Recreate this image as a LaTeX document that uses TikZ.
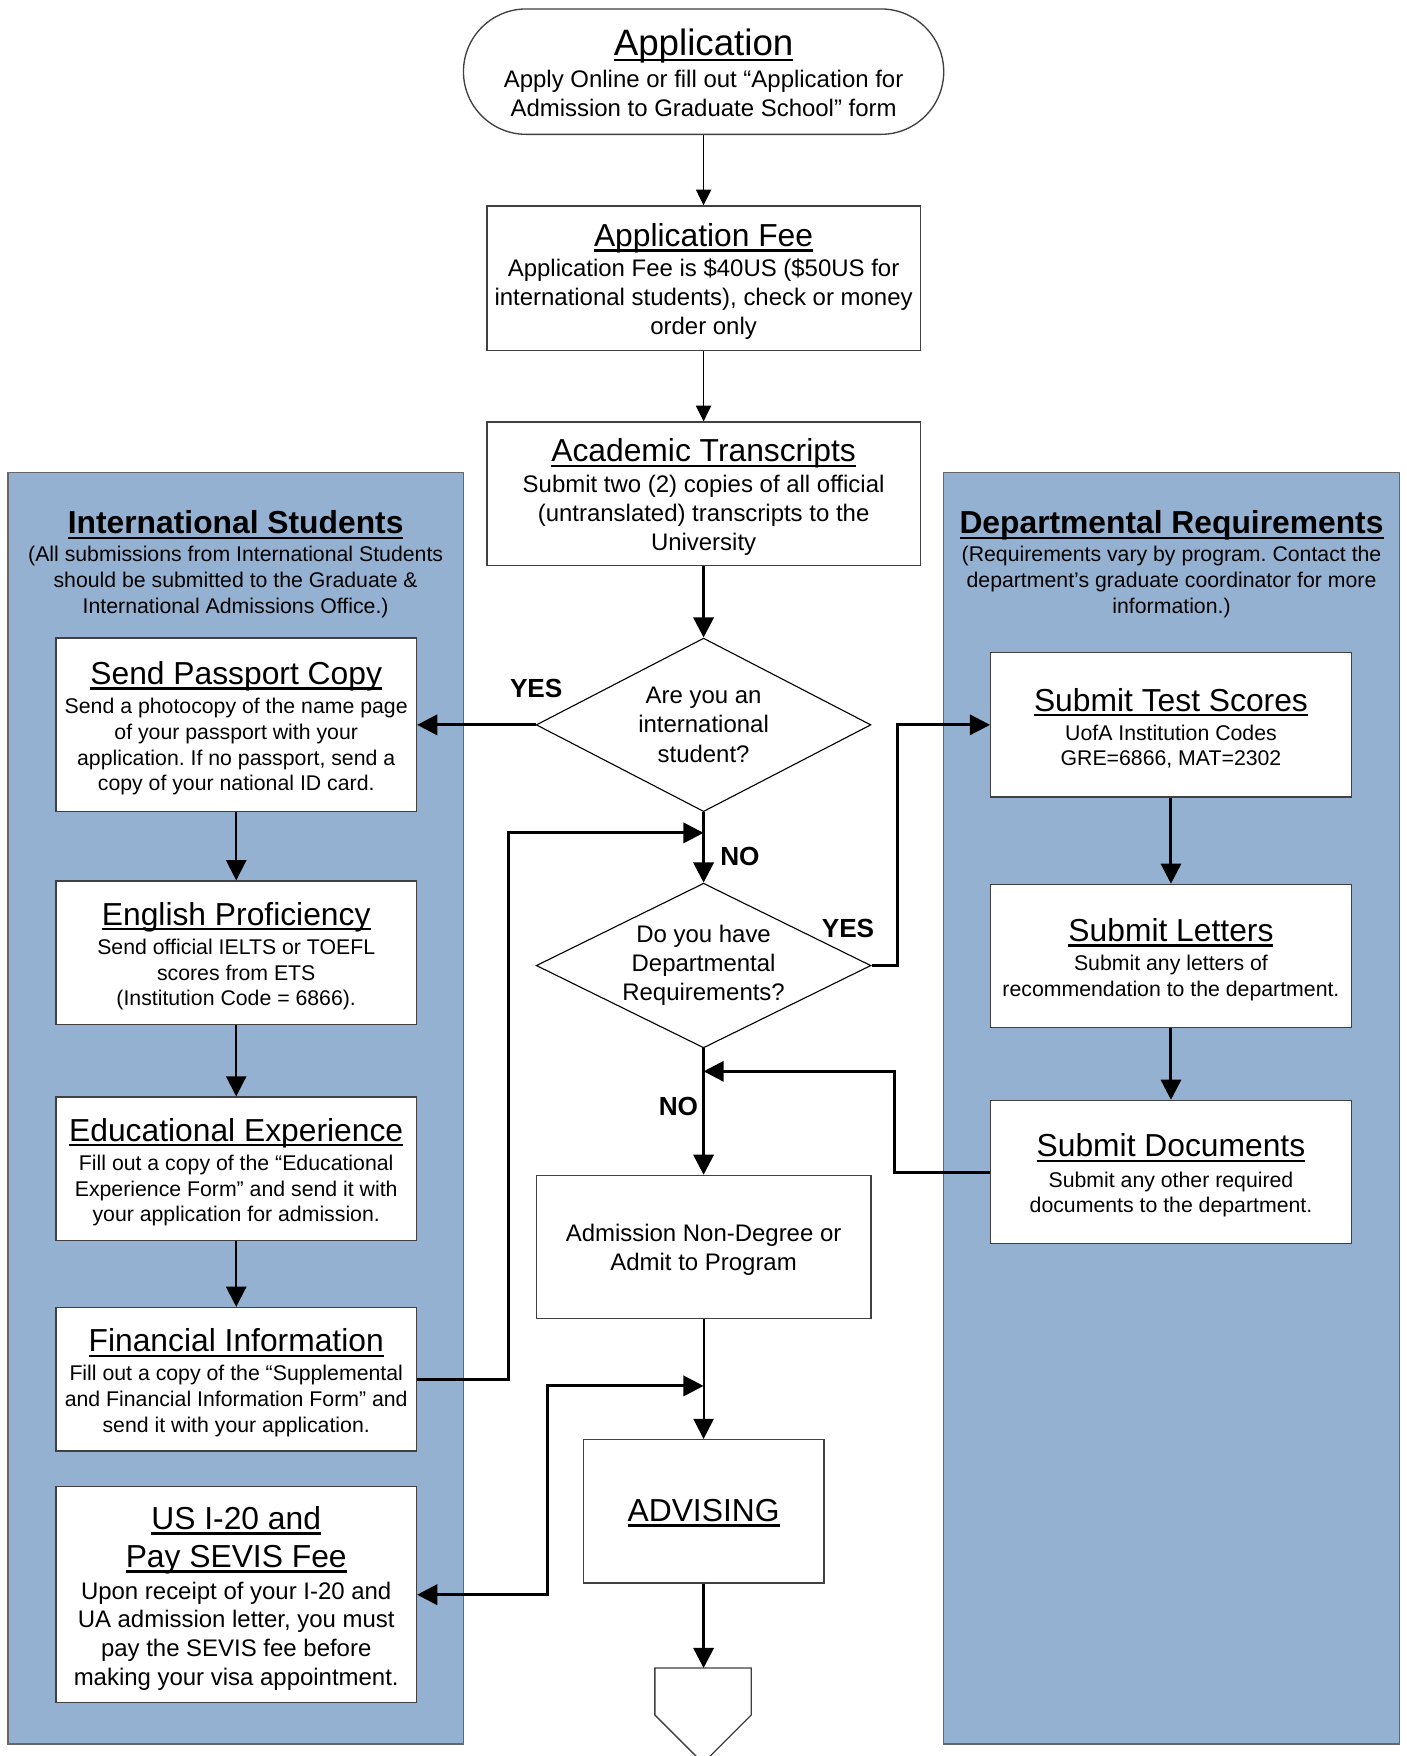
\documentclass[tikz,border=0pt]{standalone}
\usepackage{fontspec}
\setmainfont{Liberation Sans}
\usetikzlibrary{arrows.meta,shapes.geometric,shapes.misc}
\frenchspacing
\definecolor{panelblue}{RGB}{149,177,209}
\newcommand\myul[1]{\setbox0=\hbox{#1}\leavevmode\rlap{\vrule width\wd0 height -0.09em depth 0.165em}\box0}
\newcommand\mybody{\fontsize{10.7}{13}\selectfont}
\newcommand\mysmall{\fontsize{9.5}{11.5}\selectfont}
\newcommand\mytitle{\fontsize{14.2}{17}\selectfont}
\newcommand\mybig{\fontsize{16.4}{19}\selectfont}
\newcommand\myt[1]{{\mytitle\rule{0pt}{13.4pt}\myul{#1}}}
\begin{document}
\begin{tikzpicture}[x=0.5pt,y=-0.5pt,
  panel/.style={draw=black!60,fill=panelblue,line width=0.6pt,minimum width=203.5pt,minimum height=568pt,inner sep=0pt},
  box/.style={draw=black!75,fill=white,line width=0.6pt,align=center,inner sep=0pt},
  cbox/.style={box,font=\mybody,minimum width=193.5pt},
  sbox/.style={box,font=\mysmall,minimum width=161pt},
  diam/.style={diamond,draw=black,fill=white,line width=0.5pt,aspect=1.93,inner sep=0pt,align=center,font=\mybody,minimum width=149.5pt},
  thinarrow/.style={draw=black,line width=0.5pt,-{Triangle[length=7pt,width=6.8pt]}},
  medarrow/.style={draw=black,line width=0.9pt,-{Triangle[length=9pt,width=9pt]}},
  thickarrow/.style={draw=black,line width=1.35pt,-{Triangle[length=9pt,width=9pt]}},
  lbl/.style={font=\bfseries\fontsize{11.7}{14}\selectfont,inner sep=1pt},
  hdr/.style={align=center,font=\mysmall,inner sep=0pt}
]
\useasboundingbox (0,0) rectangle (1256,1568.6);
% panels
\node[panel] (lpanel) at (210.5,990) {};
\node[panel] (rpanel) at (1046.5,990) {};
\node[hdr] (lhdr) at (210.5,504) {{\bfseries\mytitle\myul{International Students}}\\[1pt]
(All submissions from International Students\\should be submitted to the Graduate \&\\International Admissions Office.)};
\node[hdr] (rhdr) at (1046.5,504) {{\bfseries\mytitle\myul{Departmental Requirements}}\\[1pt]
(Requirements vary by program. Contact the\\department’s graduate coordinator for more\\information.)};

% central column
\node[rounded rectangle,draw=black!75,fill=white,line width=0.6pt,align=center,inner sep=0pt,
  minimum width=214.5pt,minimum height=56pt,font=\mybody] (app) at (628.5,64)
  {{\mybig\rule{0pt}{13pt}\myul{Application}}\\[1.5pt]Apply Online or fill out “Application for\\Admission to Graduate School” form};
\node[cbox,minimum height=64.5pt] (fee) at (628.5,248.5)
  {\myt{Application Fee}\\[0.5pt]Application Fee is \$40US (\$50US for\\international students), check or money\\order only};
\node[cbox,minimum height=64pt] (trans) at (628.5,441)
  {\myt{Academic Transcripts}\\[0.5pt]Submit two (2) copies of all official\\(untranslated) transcripts to the\\University};
\node[diam,minimum height=77.5pt] (d1) at (628.5,647.5) {Are you an\\international\\student?};
\node[diam,minimum height=72pt] (d2) at (628.5,862.5) {Do you have\\Departmental\\Requirements?};
\node[box,font=\mybody,minimum width=149.5pt,minimum height=64pt] (adm) at (628.5,1114)
  {\rule{0pt}{9.8pt}Admission Non-Degree or\\Admit to Program};
\node[box,minimum width=107.5pt,minimum height=64pt,font=\mytitle] (adv) at (628.5,1350) {\rule{0pt}{11.4pt}\myul{ADVISING}};
\draw[draw=black!75,fill=white,line width=0.6pt] (585,1490) -- (671,1490) -- (671,1532) -- (628,1575) -- (585,1532) -- cycle;
\coordinate (opc) at (628.5,1490);

% left column
\node[sbox,minimum height=77.5pt] (pass) at (211,647.5)
  {\myt{Send Passport Copy}\\[1.5pt]Send a photocopy of the name page\\of your passport with your\\application. If no passport, send a\\copy of your national ID card.};
\node[sbox,minimum height=64pt] (eng) at (211,851)
  {\myt{English Proficiency}\\[1.5pt]Send official IELTS or TOEFL\\scores from ETS\\(Institution Code = 6866).};
\node[sbox,minimum height=64pt] (edu) at (211,1044)
  {\myt{Educational Experience}\\[1.5pt]Fill out a copy of the “Educational\\Experience Form” and send it with\\your application for admission.};
\node[sbox,minimum height=64pt] (fin) at (211,1232)
  {\myt{Financial Information}\\[1.5pt]Fill out a copy of the “Supplemental\\and Financial Information Form” and\\send it with your application.};
\node[box,font=\fontsize{10.7}{12.75}\selectfont,minimum width=161pt,minimum height=96.5pt] (i20) at (211,1424.5)
  {\myt{US I-20 and}\\[4.25pt]{\mytitle\myul{Pay SEVIS Fee}}\\[1.5pt]Upon receipt of your I-20 and\\UA admission letter, you must\\pay the SEVIS fee before\\making your visa appointment.};

% right column
\node[sbox,minimum height=64.5pt] (test) at (1046,647.5)
  {\myt{Submit Test Scores}\\[1.5pt]UofA Institution Codes\\GRE=6866, MAT=2302};
\node[sbox,minimum height=64pt] (let) at (1046,854)
  {\myt{Submit Letters}\\[1.5pt]Submit any letters of\\recommendation to the department.};
\node[sbox,minimum height=64pt] (docs) at (1046,1047)
  {\myt{Submit Documents}\\[2pt]Submit any other required\\documents to the department.};

% junction points
\coordinate (j1) at (628.5,744);
\coordinate (j2) at (628.5,957);
\coordinate (j3) at (628.5,1238);

% connectors
\draw[thinarrow] (app.south) -- (fee.north);
\draw[thinarrow] (fee.south) -- (trans.north);
\draw[thickarrow] (trans.south) -- (d1.north);
\draw[thickarrow] (d1.west) -- (pass.east);
\draw[thickarrow] (d1.south) -- (d2.north);
\draw[thickarrow] (d2.east) -- (802,862.5) |- (test.west);
\draw[thickarrow] (d2.south) -- (adm.north);
\draw[medarrow] (adm.south) -- (adv.north);
\draw[thickarrow] (adv.south) -- (opc);
\draw[medarrow] (pass.south) -- (eng.north);
\draw[medarrow] (eng.south) -- (edu.north);
\draw[medarrow] (edu.south) -- (fin.north);
\draw[thickarrow] (test.south) -- (let.north);
\draw[thickarrow] (let.south) -- (docs.north);
\draw[thickarrow] (fin.east) -- (453.9,1232) |- (j1);
\draw[thickarrow] (docs.west) -- (799,1047) |- (j2);
\draw[line width=1.35pt,{Triangle[length=9pt,width=9pt]}-{Triangle[length=9pt,width=9pt]}] (i20.east) -- (489,1424.5) |- (j3);

% labels
\node[lbl] (yes1) at (479,614.8) {YES};
\node[lbl] (no1) at (661,765) {NO};
\node[lbl,fill=white] (yes2) at (757.5,829) {YES};
\node[lbl] (no2) at (606,988) {NO};
\end{tikzpicture}
\end{document}
